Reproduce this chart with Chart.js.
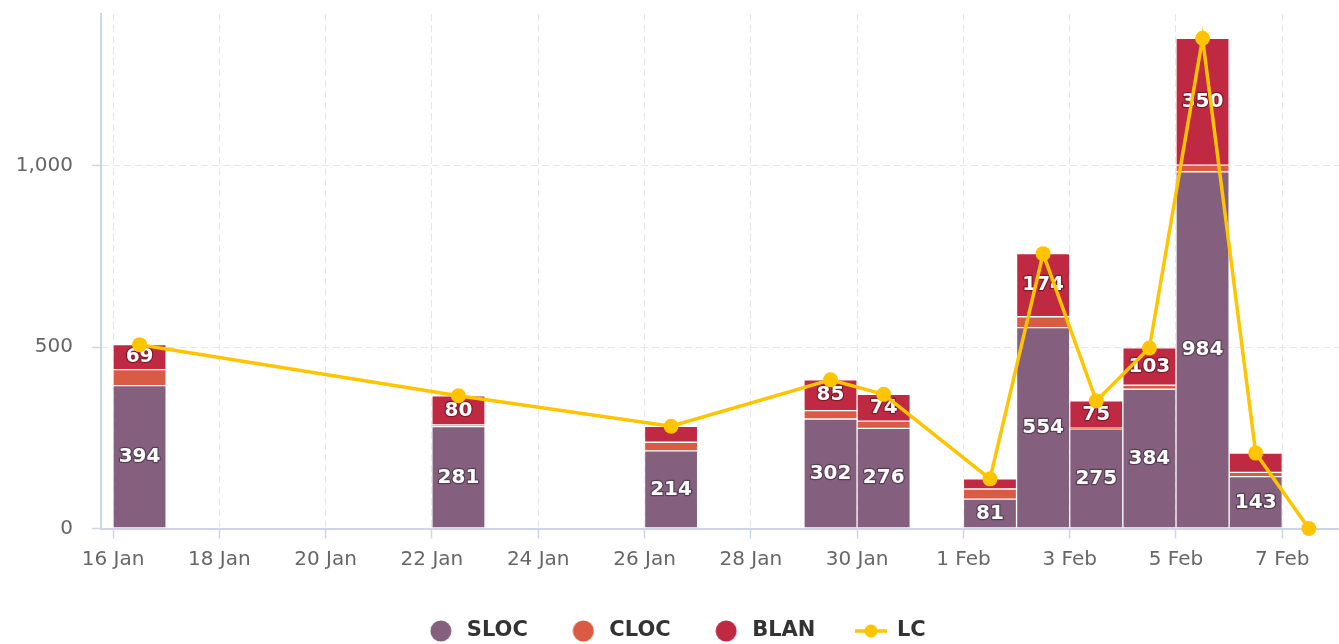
<!DOCTYPE html>
<html>
<head>
<meta charset="utf-8">
<title>Lines of code per day</title>
<script src="https://cdn.jsdelivr.net/npm/chart.js@4.4.1/dist/chart.umd.min.js"></script>
<style>
  html, body { margin: 0; padding: 0; background: #ffffff; }
  #wrap { width: 1339px; height: 644px; }
</style>
</head>
<body>
<div id="wrap"><canvas id="chart" width="1339" height="644"></canvas></div>
<script>
// Daily commit statistics
const dates = ['16 Jan', '22 Jan', '26 Jan', '29 Jan', '30 Jan', '1 Feb', '2 Feb', '3 Feb', '4 Feb', '5 Feb', '6 Feb', '7 Feb'];
const sloc  = [394, 281, 214, 302, 276,  81, 554, 275, 384,  984, 143, null];
const cloc  = [ 44,   5,  24,  23,  20,  28,  30,   2,  11,   18,  12, null];
const blan  = [ 69,  80,  44,  85,  74,  28, 174,  75, 103,  350,  53, null];
const lc    = [507, 366, 282, 410, 370, 137, 758, 352, 498, 1352, 208, 0];

const xTickLabels = ['16 Jan', '18 Jan', '20 Jan', '22 Jan', '24 Jan', '26 Jan', '28 Jan', '30 Jan', '1 Feb', '3 Feb', '5 Feb', '7 Feb'];
const yTickValues = [0, 500, 1000];

const COLORS = { SLOC: '#84607e', CLOC: '#d95b43', BLAN: '#c02942', LC: '#ffc400' };

// Day offset from 16 Jan (00:00) for a "D Mon" label
const MONTH_START = { Jan: 0, Feb: 31 };
function dayOffset(label) {
  const [d, m] = label.split(' ');
  return MONTH_START[m] + Number(d) - 16;
}
const dayToLabel = new Map(xTickLabels.map(l => [dayOffset(l), l]));

// each day's value sits at midday
const points = (values) => dates.map((d, i) => ({ x: dayOffset(d) + 0.5, y: values[i] }));

// legend symbols
function legendDot(color) {
  const c = document.createElement('canvas');
  c.width = 22; c.height = 22;
  const g = c.getContext('2d');
  g.fillStyle = color;
  g.beginPath(); g.arc(11, 11, 10.5, 0, Math.PI * 2); g.fill();
  return c;
}
function legendLine(color) {
  const c = document.createElement('canvas');
  c.width = 32; c.height = 16;
  const g = c.getContext('2d');
  g.strokeStyle = color; g.lineWidth = 3.5;
  g.beginPath(); g.moveTo(0, 8); g.lineTo(32, 8); g.stroke();
  g.fillStyle = color;
  g.beginPath(); g.arc(16, 8, 6.5, 0, Math.PI * 2); g.fill();
  return c;
}

// value labels centred in each stacked segment that is tall enough
const segmentLabels = {
  id: 'segmentLabels',
  afterDatasetDraw(chart, args) {
    const meta = args.meta;
    if (meta.type !== 'bar') return;
    const ds = chart.data.datasets[args.index];
    const ctx = chart.ctx;
    ctx.save();
    ctx.font = 'bold 20px "DejaVu Sans", sans-serif';
    ctx.textAlign = 'center';
    ctx.textBaseline = 'middle';
    ctx.lineJoin = 'round';
    meta.data.forEach((bar, i) => {
      const v = ds.data[i].y;
      if (v == null) return;
      const p = bar.getProps(['x', 'y', 'base'], true);
      const h = Math.abs(p.base - p.y);
      if (h < 22) return;
      const cy = (p.y + p.base) / 2;
      ctx.lineWidth = 2.5;
      ctx.strokeStyle = 'rgba(0,0,0,0.35)';
      ctx.strokeText(String(v), p.x, cy);
      ctx.fillStyle = '#ffffff';
      ctx.fillText(String(v), p.x, cy);
    });
    ctx.restore();
  }
};

// fixed legend block height, nudged slightly right
const legendPlacement = {
  id: 'legendPlacement',
  beforeLayout(chart) {
    const lg = chart.legend;
    if (lg && !lg._fixedFit) {
      const fit = lg.fit;
      lg.fit = function () { fit.call(this); this.height = 63.5; };
      lg._fixedFit = true;
    }
  },
  afterLayout(chart) {
    if (chart.legend) chart.legend.left += 12;
  }
};

Chart.defaults.font.family = '"DejaVu Sans", sans-serif';

const barStyle = {
  type: 'bar',
  borderWidth: 1,
  borderColor: 'rgba(255,255,255,0.55)',
  borderSkipped: false,
  barPercentage: 1,
  categoryPercentage: 1,
  stack: 'loc'
};

new Chart(document.getElementById('chart'), {
  data: {
    datasets: [
      { ...barStyle, label: 'SLOC', data: points(sloc), backgroundColor: COLORS.SLOC, legendSymbol: legendDot(COLORS.SLOC) },
      { ...barStyle, label: 'CLOC', data: points(cloc), backgroundColor: COLORS.CLOC, legendSymbol: legendDot(COLORS.CLOC) },
      { ...barStyle, label: 'BLAN', data: points(blan), backgroundColor: COLORS.BLAN, legendSymbol: legendDot(COLORS.BLAN) },
      {
        type: 'line', label: 'LC', data: points(lc), stack: 'lc', order: -1,
        borderColor: COLORS.LC, backgroundColor: COLORS.LC, borderWidth: 3.5,
        pointRadius: 7.5, pointHoverRadius: 7.5, pointBorderWidth: 0,
        pointBackgroundColor: COLORS.LC, tension: 0, clip: false,
        legendSymbol: legendLine(COLORS.LC)
      }
    ]
  },
  options: {
    responsive: false,
    animation: false,
    devicePixelRatio: 1,
    layout: { autoPadding: false, padding: { top: 14, left: 0, right: 0, bottom: 0 } },
    plugins: {
      tooltip: { enabled: false },
      legend: {
        position: 'bottom',
        labels: {
          usePointStyle: true,
          pointStyleWidth: 31,
          boxHeight: 21,
          padding: 40,
          color: '#333333',
          font: { size: 21, weight: 'bold' },
          generateLabels(chart) {
            return chart.data.datasets.map((ds, i) => ({
              text: ds.label,
              datasetIndex: i,
              pointStyle: ds.legendSymbol,
              fillStyle: ds.backgroundColor,
              strokeStyle: ds.backgroundColor,
              lineWidth: 0,
              hidden: !chart.isDatasetVisible(i),
              fontColor: '#333333'
            }));
          }
        }
      }
    },
    scales: {
      x: {
        type: 'linear',
        stacked: true,
        offset: false,
        min: -0.2258,
        max: 23.067,
        afterBuildTicks(scale) { scale.ticks = xTickLabels.map(l => ({ value: dayOffset(l) })); },
        afterFit(scale) {
          scale.height = 52;
          scale.paddingLeft = 0; scale.paddingRight = 0;
        },
        ticks: {
          autoSkip: false,
          maxRotation: 0,
          padding: 9,
          color: '#666666',
          font: { size: 20 },
          callback: (v) => dayToLabel.get(v) || ''
        },
        grid: {
          offset: false,
          color: '#e6e6e6',
          lineWidth: 1,
          drawTicks: true,
          tickLength: 10,
          tickColor: '#ccd6eb',
          tickWidth: 1.5,
          tickBorderDash: []
        },
        border: { display: true, color: '#ccd6eb', width: 2, dash: [7, 4] }
      },
      y: {
        type: 'linear',
        stacked: true,
        min: 0,
        max: 1419,
        afterBuildTicks(scale) { scale.ticks = yTickValues.map(v => ({ value: v })); },
        afterFit(scale) {
          scale.width = 101;
          scale.paddingTop = 0; scale.paddingBottom = 0;
        },
        ticks: {
          padding: 19,
          color: '#666666',
          font: { size: 20 },
          callback: (v) => v.toLocaleString('en-US')
        },
        grid: {
          color: '#e6e6e6',
          lineWidth: 1,
          drawTicks: true,
          tickLength: 9,
          tickColor: '#ccd6eb',
          tickWidth: 1.5,
          tickBorderDash: []
        },
        border: { display: true, color: '#ccd6eb', width: 2, dash: [7, 4] }
      }
    }
  },
  plugins: [segmentLabels, legendPlacement]
});
</script>
</body>
</html>
